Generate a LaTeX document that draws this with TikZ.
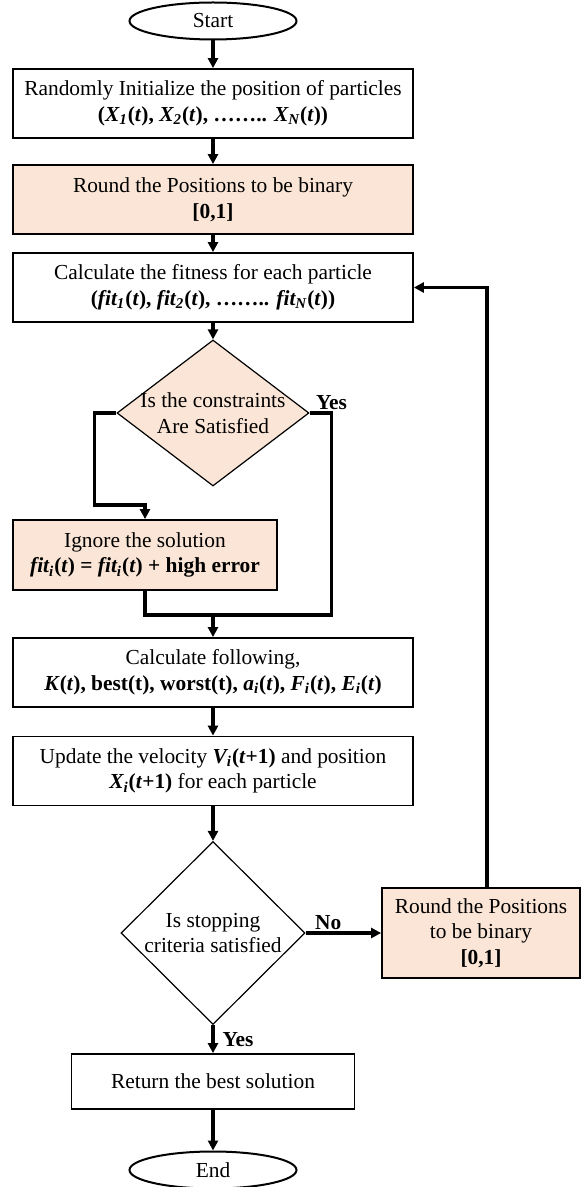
\documentclass[tikz,border=0pt]{standalone}
\usepackage{fontspec}
\setmainfont{Liberation Serif}
\usepackage{xcolor}
\usepackage{tikz}
\usetikzlibrary{shapes.geometric, positioning, arrows.meta}
\definecolor{peach}{HTML}{FBE5D6}
\newcommand{\roundcolor}{peach}
\newcommand{\chartfont}{\fontsize{10.7pt}{12.8pt}\selectfont}
\tikzstyle{startstop} = [ellipse, 
minimum width=83.5pt, 
minimum height=18.5pt,
inner sep=0pt,
text centered, 
draw=black, line width=1pt]
\tikzstyle{process} = [rectangle, 
minimum width=200pt, 
minimum height=34.5pt,
align=center, 
draw=black, line width=0.9pt, fill=white]
\tikzstyle{roundbox} = [process, fill=\roundcolor]
\tikzstyle{decision} = [diamond, 
minimum width=96pt, 
minimum height=73pt,
inner sep=-2pt, align=center,
draw=black, line width=0.6pt]
\tikzstyle{arrow} = [line width=1.6pt,-{Triangle[length=5pt,width=5pt]}]
\tikzstyle{flowline} = [line width=1.6pt]
\tikzstyle{answer} = [font=\chartfont\bfseries, inner sep=1pt]

\begin{document}
\begin{tikzpicture}[node distance=48pt, font=\chartfont]
\useasboundingbox (-106.5pt,10.5pt) rectangle (184.5pt,-583pt);

%-----------start
\node (start) [startstop] {Start};
%-----------random initial positions
\node (init) [process, below of=start, yshift=6.75pt]
  {Randomly Initialize the position of particles\\
   \textbf{(\textit{X\textsubscript{1}}(\textit{t}), \textit{X\textsubscript{2}}(\textit{t}), …….. \textit{X\textsubscript{N}}(\textit{t}))}};
%-----------binary rounding
\node (round1) [roundbox, below of=init]
  {Round the Positions to be binary\\ \textbf{[0,1]}};
%-----------fitness
\node (fitness) [process, below of=round1, yshift=4pt]
  {Calculate the fitness for each particle\\
   \textbf{(\textit{fit\textsubscript{1}}(\textit{t}), \textit{fit\textsubscript{2}}(\textit{t}), …….. \textit{fit\textsubscript{N}}(\textit{t}))}};
%-----------constraints check
\node (check) [decision, below of=fitness, yshift=-14.75pt, fill=\roundcolor, shape aspect=1.315]
  {Is the constraints\\Are Satisfied};
%-----------penalty
\node (ignore) [roundbox, below of=check, xshift=-34pt, yshift=-23pt,
  minimum width=132pt, minimum height=35pt]
  {Ignore the solution\\
   \textbf{\textit{fit\textsubscript{i}}(\textit{t}) = \textit{fit\textsubscript{i}}(\textit{t}) + high error}};
\node (merge) [coordinate, below of=check, yshift=-53pt] {};
%-----------following quantities
\node (calc) [process, below of=check, yshift=-81.75pt]
  {Calculate following,\\
   \textbf{\textit{K}(\textit{t}), best(t), worst(t), \textit{a\textsubscript{i}}(\textit{t}), \textit{F\textsubscript{i}}(\textit{t}), \textit{E\textsubscript{i}}(\textit{t})}};
%-----------velocity and position
\node (update) [process, below of=calc, yshift=-1.25pt]
  {Update the velocity \textbf{\textit{V\textsubscript{i}}(\textit{t}+1)} and position\\
   \textbf{\textit{X\textsubscript{i}}(\textit{t}+1)} for each particle};
%-----------stopping criteria
\node (stop) [decision, below of=update, yshift=-33pt, minimum width=92pt, minimum height=91.5pt]
  {Is stopping\\criteria satisfied};
%-----------rounding again
\node (round2) [roundbox, right of=stop, xshift=86pt, minimum width=99pt, minimum height=45pt]
  {Round the Positions\\to be binary\\ \textbf{[0,1]}};
%-----------best solution
\node (best) [process, below of=stop, yshift=-26.25pt, minimum width=141.5pt, minimum height=27.5pt]
  {Return the best solution};
%-----------end
\node (end) [startstop, below of=best, yshift=3.75pt] {End};

\draw [arrow] (start) -- (init);
\draw [arrow] (init) -- (round1);
\draw [arrow] (round1) -- (fitness);
\draw [arrow] (fitness) -- (check);
\draw [arrow] (check.west) -- ++(-11pt,0) -- ++(0,-46pt) -| (ignore.north);
\draw [flowline] (check.east) -- ++(11pt,0) node [answer, above] {Yes} |- (merge);
\draw [flowline] (ignore.south) |- (merge);
\draw [arrow] (merge) -- (calc);
\draw [arrow] (calc) -- (update);
\draw [arrow] (update) -- (stop);
\draw [arrow] (stop) -- (round2) node [answer, above, pos=0.3] {No};
\draw [arrow] ([xshift=3pt]round2.north) |- (fitness.east);
\draw [arrow] (stop) -- (best) node [answer, right, midway, xshift=3pt] {Yes};
\draw [arrow] (best) -- (end);

\end{tikzpicture}
\end{document}
